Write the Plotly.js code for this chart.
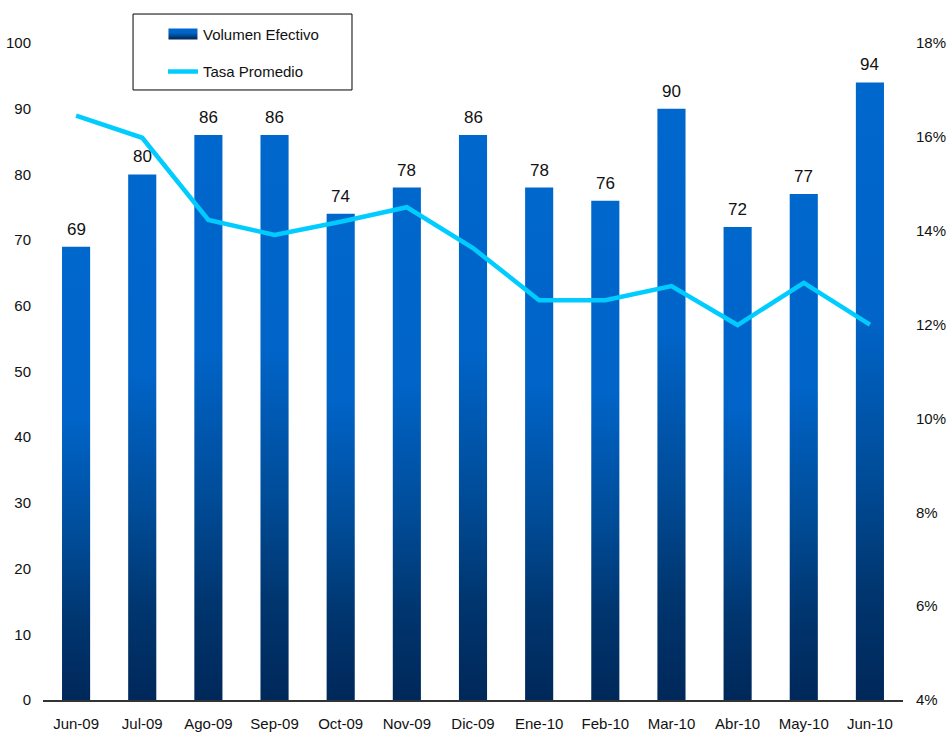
<!DOCTYPE html>
<html>
<head>
<meta charset="utf-8">
<script src="https://cdn.plot.ly/plotly-3.0.1.min.js"></script>
<style>
  html, body { margin: 0; padding: 0; background: #fff; }
  #chart { width: 949px; height: 736px; }
</style>
</head>
<body>
<div id="chart"></div>
<script>
// ---- data ----
const months = ["Jun-09","Jul-09","Ago-09","Sep-09","Oct-09","Nov-09","Dic-09","Ene-10","Feb-10","Mar-10","Abr-10","May-10","Jun-10"];
const volumen = [69, 80, 86, 86, 74, 78, 86, 78, 76, 90, 72, 77, 94];
const tasa = [16.45, 15.98, 14.23, 13.91, 14.19, 14.5, 13.63, 12.52, 12.52, 12.82, 11.99, 12.89, 12.0];
const leftTicks = [0,10,20,30,40,50,60,70,80,90,100];
const rightTicks = [4,6,8,10,12,14,16,18];
const rightTickLabels = ["4%","6%","8%","10%","12%","14%","16%","18%"];
const seriesNames = ["Volumen Efectivo", "Tasa Promedio"];

const FONT = '"Liberation Sans Narrow", "Arial Narrow", "Liberation Sans", Arial, sans-serif';

const traces = [
  {
    type: 'bar', name: seriesNames[0], x: months, y: volumen,
    marker: { color: '#0060C0' }, legendgroup: 'a', hoverinfo: 'none'
  },
  {
    type: 'scatter', mode: 'lines', name: seriesNames[1], x: months, y: tasa,
    yaxis: 'y2', line: { color: '#00CCFF', width: 4.5 }, legendgroup: 'b', hoverinfo: 'none'
  }
];

const annotations = months.map((m, i) => ({
  x: m, y: volumen[i], xref: 'x', yref: 'y', text: String(volumen[i]),
  showarrow: false, yanchor: 'bottom', yshift: 6,
  font: { family: FONT, size: 17, color: '#111' }
}));

const layout = {
  width: 949, height: 736,
  margin: { l: 43, r: 46, t: 43, b: 36 },
  paper_bgcolor: '#fff', plot_bgcolor: '#fff',
  font: { family: FONT, size: 15, color: '#111' },
  bargap: 0.575,
  showlegend: true,
  legend: {
    x: 0.1395, y: 1.0385, xanchor: 'left', yanchor: 'top',
    bgcolor: 'rgba(0,0,0,0)', borderwidth: 0,
    traceorder: 'grouped', tracegroupgap: 15, itemwidth: 30,
    font: { family: FONT, size: 15, color: '#111' }
  },
  xaxis: {
    type: 'category', showgrid: false, zeroline: false,
    showline: true, linecolor: '#333', linewidth: 1.5,
    ticks: '', ticklabelstandoff: 9,
    tickfont: { family: FONT, size: 15, color: '#111' }
  },
  yaxis: {
    range: [0, 100], tickvals: leftTicks, showgrid: false, zeroline: false,
    showline: false, ticks: '', ticklabelstandoff: 11,
    tickfont: { family: FONT, size: 15, color: '#111' }
  },
  yaxis2: {
    overlaying: 'y', side: 'right', range: [4, 18],
    tickmode: 'array', tickvals: rightTicks, ticktext: rightTickLabels,
    showgrid: false, zeroline: false, showline: false,
    ticks: '', ticklabelstandoff: 12,
    tickfont: { family: FONT, size: 15, color: '#111' }
  },
  shapes: [{
    type: 'rect', xref: 'paper', yref: 'paper',
    x0: 0.1047, x1: 0.3593, y0: 0.9285, y1: 1.0441,
    line: { color: '#000', width: 1 }, fillcolor: '#fff', layer: 'above'
  }],
  annotations: annotations
};

Plotly.newPlot('chart', traces, layout, { displayModeBar: false, staticPlot: true }).then(function (gd) {
  const svgNS = 'http://www.w3.org/2000/svg';
  const svg = gd.querySelector('.main-svg');
  let defs = svg.querySelector('defs');
  if (!defs) { defs = document.createElementNS(svgNS, 'defs'); svg.insertBefore(defs, svg.firstChild); }
  const grad = document.createElementNS(svgNS, 'linearGradient');
  grad.setAttribute('id', 'barGrad');
  grad.setAttribute('x1', '0'); grad.setAttribute('y1', '0');
  grad.setAttribute('x2', '0'); grad.setAttribute('y2', '1');
  [[0, '#0067CD'], [0.38, '#0064C8'], [0.64, '#004C98'], [0.83, '#00356E'], [1, '#00285A']].forEach(function (s) {
    const st = document.createElementNS(svgNS, 'stop');
    st.setAttribute('offset', s[0]);
    st.setAttribute('stop-color', s[1]);
    grad.appendChild(st);
  });
  defs.appendChild(grad);
  gd.querySelectorAll('.barlayer .point path').forEach(function (p) {
    p.style.fill = 'url(#barGrad)';
  });
  const legPaths = gd.querySelectorAll('.legend .traces .legendpoints path');
  legPaths.forEach(function (p) {
    if (p.closest('.legendbar') || (p.getAttribute('d') || '').indexOf('M6,6H-6V-6H6Z') === 0) {
      p.setAttribute('d', 'M14.5,5.5H-14.5V-5.5H14.5Z');
      p.style.fill = 'url(#barGrad)';
      p.style.stroke = 'none';
    }
  });
});
</script>
</body>
</html>
